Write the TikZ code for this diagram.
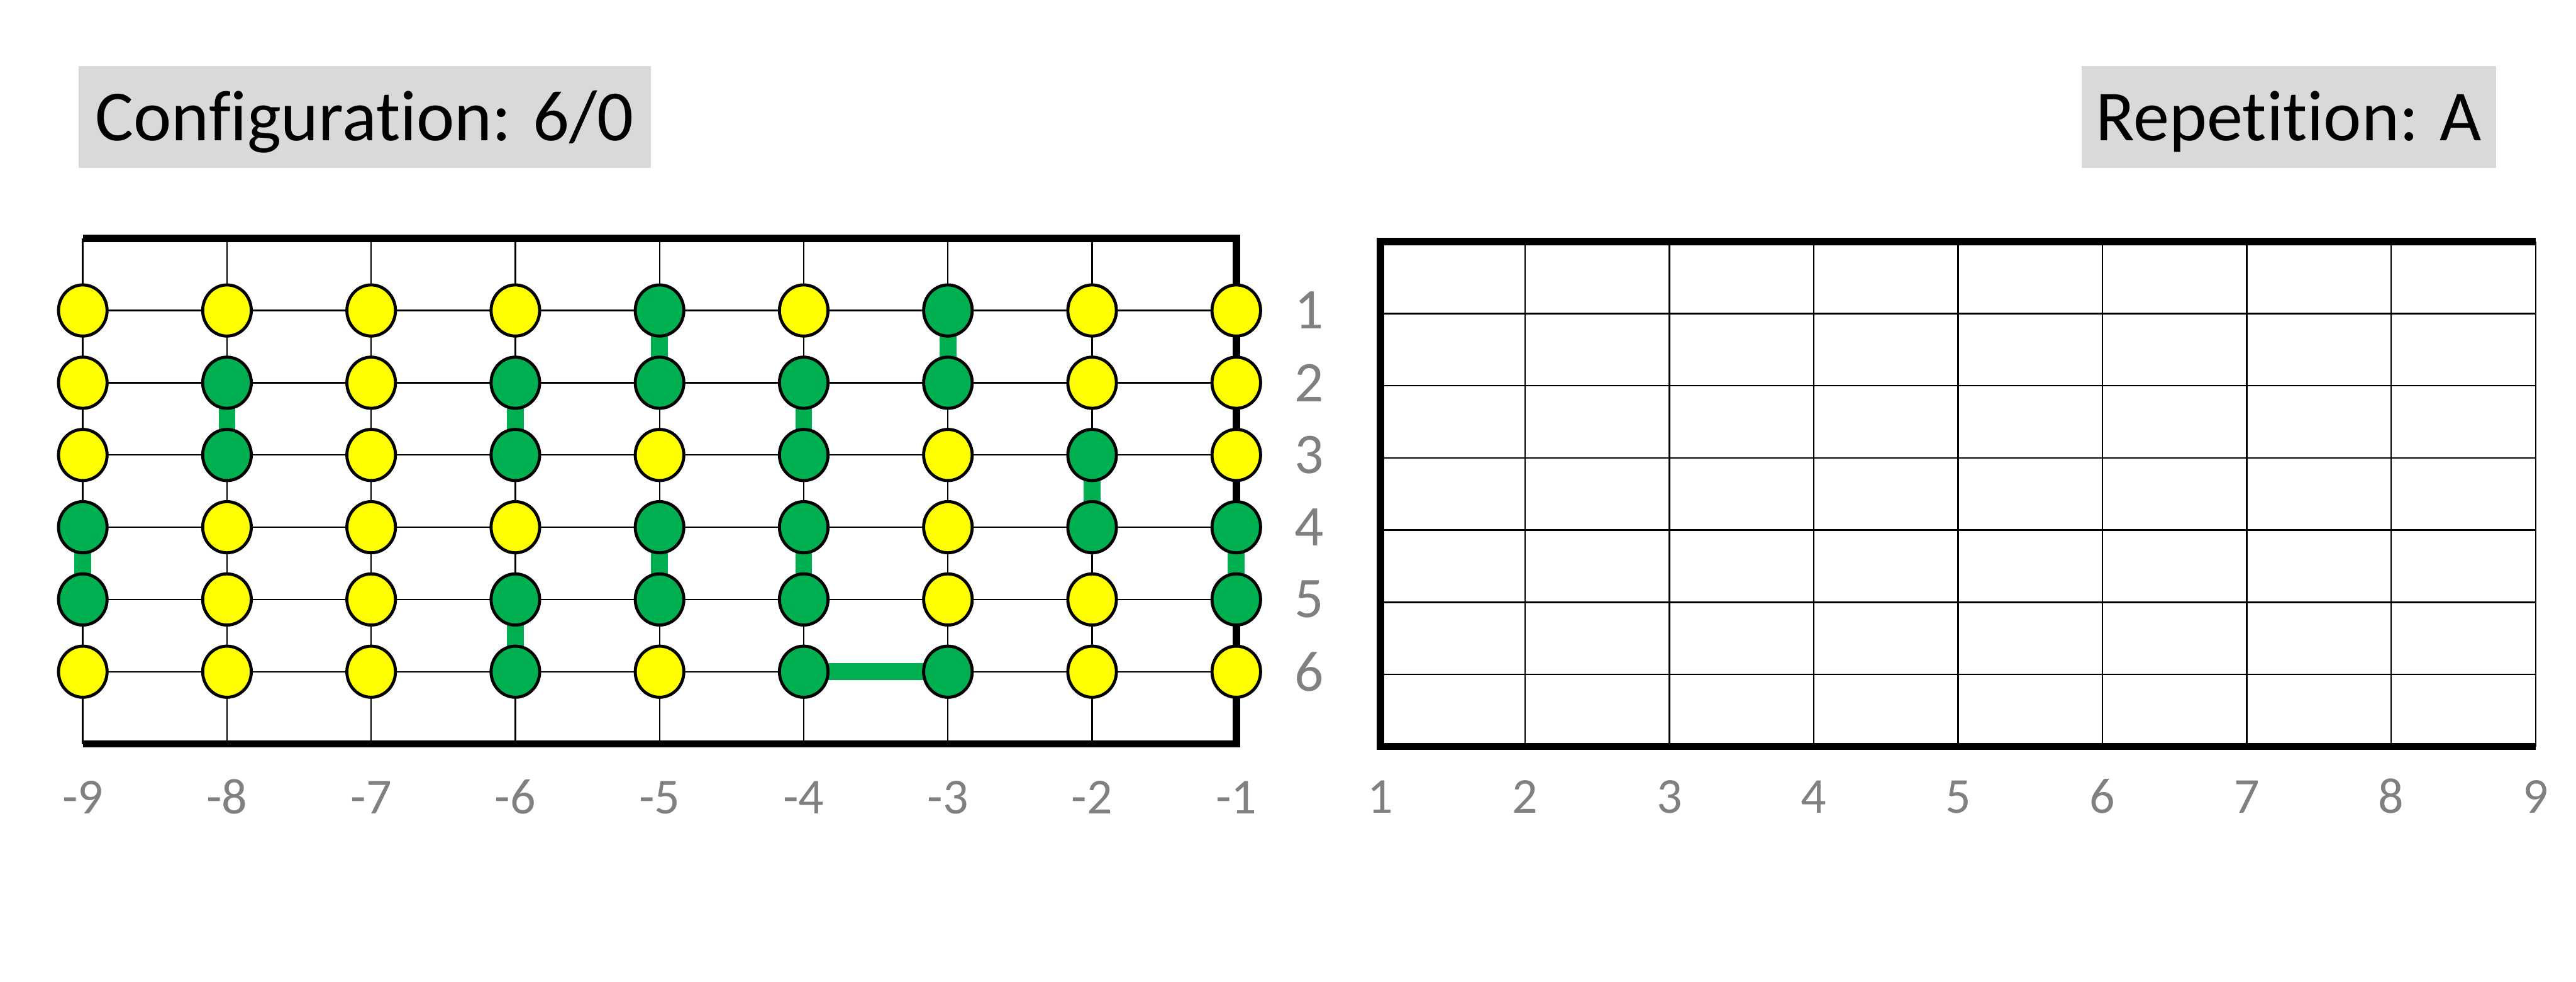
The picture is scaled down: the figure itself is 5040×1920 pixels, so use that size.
\documentclass[tikz,border=0pt]{standalone}
\usepackage{fontspec}
\setmainfont{Carlito}[Ligatures=NoCommon]
\usetikzlibrary{shapes.geometric}
\definecolor{yl}{RGB}{255,255,0}
\definecolor{gr}{RGB}{0,176,80}
\definecolor{axisgray}{RGB}{128,128,128}
\definecolor{tagfill}{RGB}{217,217,217}
\pgfdeclarelayer{lattice}
\pgfdeclarelayer{bonds}
\pgfsetlayers{lattice,bonds,main}

\begin{document}
\begin{tikzpicture}[x=0.01cm,y=-0.01cm,
  gridline/.style={line width=0.03cm},
  frame/.style={line width=0.145cm,line join=miter},
  spin/.style={ellipse,draw,line width=0.06cm,minimum width=0.95cm,
    minimum height=1cm,inner sep=0pt},
  bond/.style={line width=0.33cm,draw=gr},
  tag/.style={fill=tagfill,inner sep=0pt,minimum height=1.99cm,
    text height=0.92cm,text depth=0pt,font=\fontsize{40}{48}\selectfont},
  collab/.style={text=axisgray,anchor=base,font=\fontsize{28}{34}\selectfont},
  rowlab/.style={text=axisgray,font=\fontsize{32}{38}\selectfont}]
\useasboundingbox (0,0) rectangle (5040,1920);

% headings
\node[tag,minimum width=11.19cm] (config) at (713.5,228.5) {Configuration: 6/0};
\node[tag,minimum width=8.1cm] (rep) at (4478,228.5) {Repetition: A};

% left lattice
\begin{pgfonlayer}{lattice}
\foreach \i in {0,...,8} \draw[gridline] (162+282.1*\i,466) -- (162+282.1*\i,1455);
\foreach \j in {1,...,6} \draw[gridline] (162,466+141.3*\j) -- (2419,466+141.3*\j);
\draw[frame] (162,466) -- (2419,466) -- (2419,1455) -- (162,1455);
\end{pgfonlayer}
\foreach \pat [count=\j] in {{yl,yl,yl,yl,gr,yl,gr,yl,yl},
    {yl,gr,yl,gr,gr,gr,gr,yl,yl},{yl,gr,yl,gr,yl,gr,yl,gr,yl},
    {gr,yl,yl,yl,gr,gr,yl,gr,gr},{gr,yl,yl,gr,gr,gr,yl,yl,gr},
    {yl,yl,yl,gr,yl,gr,gr,yl,yl}}
  \foreach \s [count=\i] in \pat
    \node[spin,fill=\s] (s\i-\j) at (162+282.1*\i-282.1,466+141.3*\j) {};

% dimers
\begin{pgfonlayer}{bonds}
\draw[bond] (s1-4.center) -- (s1-5.center);
\draw[bond] (s2-2.center) -- (s2-3.center);
\draw[bond] (s4-2.center) -- (s4-3.center);
\draw[bond] (s4-5.center) -- (s4-6.center);
\draw[bond] (s5-1.center) -- (s5-2.center);
\draw[bond] (s5-4.center) -- (s5-5.center);
\draw[bond] (s6-2.center) -- (s6-3.center);
\draw[bond] (s6-4.center) -- (s6-5.center);
\draw[bond] (s6-6.center) -- (s7-6.center);
\draw[bond] (s7-1.center) -- (s7-2.center);
\draw[bond] (s8-3.center) -- (s8-4.center);
\draw[bond] (s9-4.center) -- (s9-5.center);
\end{pgfonlayer}

% axis labels
\foreach \j in {1,...,6} \node[rowlab] (r\j) at (2561,466+141.3*\j) {\j};
\foreach \i [evaluate=\i as \n using int(10-\i)] in {1,...,9}
  \node[collab] (c\i) at (162+282.1*\i-282.1,1592) {-\n};

% right lattice (empty)
\foreach \k in {0,...,8} \draw[gridline] (2701+282.5*\k,472) -- (2701+282.5*\k,1460);
\foreach \j in {1,...,6} \draw[gridline] (2701,472+141.2*\j) -- (4961,472+141.2*\j);
\draw[frame] (4961,472) -- (2701,472) -- (2701,1460) -- (4961,1460);
\foreach \k in {1,...,9} \node[collab] (t\k) at (2701+282.5*\k-282.5,1590) {\k};
\end{tikzpicture}
\end{document}
